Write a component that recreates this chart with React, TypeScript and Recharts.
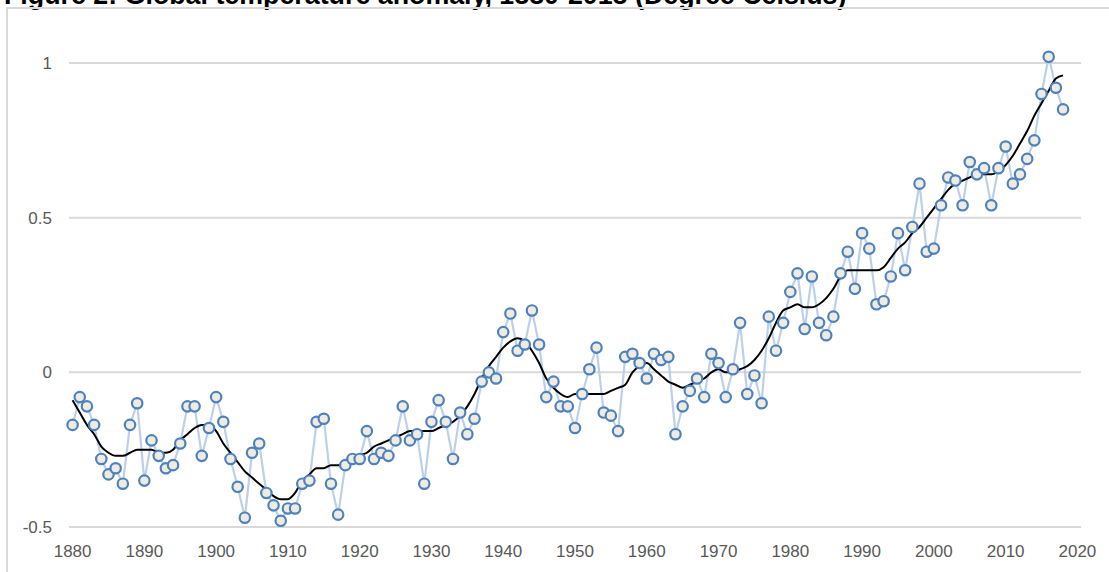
import React from "react";
import { LineChart, Line, XAxis, YAxis, CartesianGrid } from "recharts";

const TITLE = "Figure 2: Global temperature anomaly, 1880-2018 (Degree Celsius)";
const START_YEAR = 1880;

const anomaly = [
  -0.17, -0.08, -0.11, -0.17, -0.28, -0.33, -0.31, -0.36, -0.17, -0.10,
  -0.35, -0.22, -0.27, -0.31, -0.30, -0.23, -0.11, -0.11, -0.27, -0.18,
  -0.08, -0.16, -0.28, -0.37, -0.47, -0.26, -0.23, -0.39, -0.43, -0.48,
  -0.44, -0.44, -0.36, -0.35, -0.16, -0.15, -0.36, -0.46, -0.30, -0.28,
  -0.28, -0.19, -0.28, -0.26, -0.27, -0.22, -0.11, -0.22, -0.20, -0.36,
  -0.16, -0.09, -0.16, -0.28, -0.13, -0.20, -0.15, -0.03, 0.00, -0.02,
  0.13, 0.19, 0.07, 0.09, 0.20, 0.09, -0.08, -0.03, -0.11, -0.11,
  -0.18, -0.07, 0.01, 0.08, -0.13, -0.14, -0.19, 0.05, 0.06, 0.03,
  -0.02, 0.06, 0.04, 0.05, -0.20, -0.11, -0.06, -0.02, -0.08, 0.06,
  0.03, -0.08, 0.01, 0.16, -0.07, -0.01, -0.10, 0.18, 0.07, 0.16,
  0.26, 0.32, 0.14, 0.31, 0.16, 0.12, 0.18, 0.32, 0.39, 0.27,
  0.45, 0.40, 0.22, 0.23, 0.31, 0.45, 0.33, 0.47, 0.61, 0.39,
  0.40, 0.54, 0.63, 0.62, 0.54, 0.68, 0.64, 0.66, 0.54, 0.66,
  0.73, 0.61, 0.64, 0.69, 0.75, 0.90, 1.02, 0.92, 0.85,
];

const smoothed = [
  -0.09, -0.13, -0.17, -0.20, -0.24, -0.26, -0.27, -0.27, -0.26, -0.25,
  -0.25, -0.25, -0.26, -0.26, -0.25, -0.22, -0.20, -0.18, -0.17, -0.17,
  -0.19, -0.23, -0.26, -0.29, -0.32, -0.34, -0.36, -0.38, -0.40, -0.41,
  -0.41, -0.39, -0.35, -0.33, -0.31, -0.31, -0.30, -0.30, -0.30, -0.29,
  -0.27, -0.26, -0.24, -0.23, -0.22, -0.21, -0.20, -0.19, -0.19, -0.19,
  -0.19, -0.18, -0.17, -0.16, -0.14, -0.11, -0.07, -0.02, 0.02, 0.05,
  0.08, 0.10, 0.11, 0.10, 0.07, 0.03, -0.02, -0.05, -0.07, -0.08,
  -0.07, -0.07, -0.07, -0.07, -0.07, -0.06, -0.05, -0.04, 0.00, 0.02,
  0.03, 0.01, -0.01, -0.03, -0.04, -0.05, -0.04, -0.03, -0.02, 0.00,
  0.01, 0.00, 0.00, 0.01, 0.02, 0.04, 0.07, 0.11, 0.16, 0.20,
  0.21, 0.22, 0.21, 0.21, 0.22, 0.24, 0.27, 0.31, 0.33, 0.33,
  0.33, 0.33, 0.33, 0.34, 0.37, 0.40, 0.42, 0.45, 0.47, 0.50,
  0.53, 0.56, 0.59, 0.61, 0.62, 0.63, 0.64, 0.64, 0.64, 0.65,
  0.67, 0.70, 0.74, 0.78, 0.83, 0.87, 0.91, 0.95, 0.96,
];

const xTicks = [1880, 1890, 1900, 1910, 1920, 1930, 1940, 1950, 1960, 1970, 1980, 1990, 2000, 2010, 2020];
const yTicks = [-0.5, 0, 0.5, 1];

const data = anomaly.map((v, i) => ({
  year: START_YEAR + i,
  anomaly: v,
  smooth: smoothed[i],
}));

const tickStyle = { fill: "#595959", fontSize: 17, fontFamily: "'Liberation Sans', Arial, sans-serif" };

export default function App() {
  return (
    <div style={{ position: "absolute", left: 0, top: 0, width: 1109, height: 572, overflow: "hidden", background: "#fff" }}>
      <svg width={1109} height={20} style={{ position: "absolute", left: 0, top: 0 }}>
        <text x={4} y={4} fontFamily="'Liberation Sans', Arial, sans-serif" fontWeight="bold" fontSize={26.8} fill="#000">
          {TITLE}
        </text>
      </svg>
      <div style={{ position: "absolute", left: 6, top: 7, width: 1200, height: 700, border: "2px solid #D9D9D9" }} />
      <div style={{ position: "absolute", left: 0, top: 0 }}>
        <LineChart width={1109} height={572} data={data} margin={{ top: 44.44, right: 28, bottom: 0, left: 0 }}>
          <CartesianGrid vertical={false} horizontalValues={yTicks} stroke="#D9D9D9" strokeWidth={2} />
          <XAxis
            dataKey="year"
            type="number"
            domain={[1879.5, 2020.5]}
            ticks={xTicks}
            axisLine={false}
            tickLine={false}
            tickSize={0}
            tickMargin={18}
            height={45}
            tick={tickStyle}
            interval={0}
          />
          <YAxis
            type="number"
            domain={[-0.5, 1.06]}
            ticks={yTicks}
            axisLine={false}
            tickLine={false}
            tickSize={0}
            tickMargin={17}
            width={69}
            tick={tickStyle}
            interval={0}
          />
          <Line
            dataKey="anomaly"
            stroke="#BCD0EA"
            strokeWidth={2.2}
            dot={{ r: 5.2, fill: "#EEECE1", stroke: "#4F81BD", strokeWidth: 2.2, clipDot: false }}
            isAnimationActive={false}
          />
          <Line
            dataKey="smooth"
            type="monotone"
            stroke="#000"
            strokeWidth={2}
            dot={false}
            isAnimationActive={false}
          />
        </LineChart>
      </div>
    </div>
  );
}
